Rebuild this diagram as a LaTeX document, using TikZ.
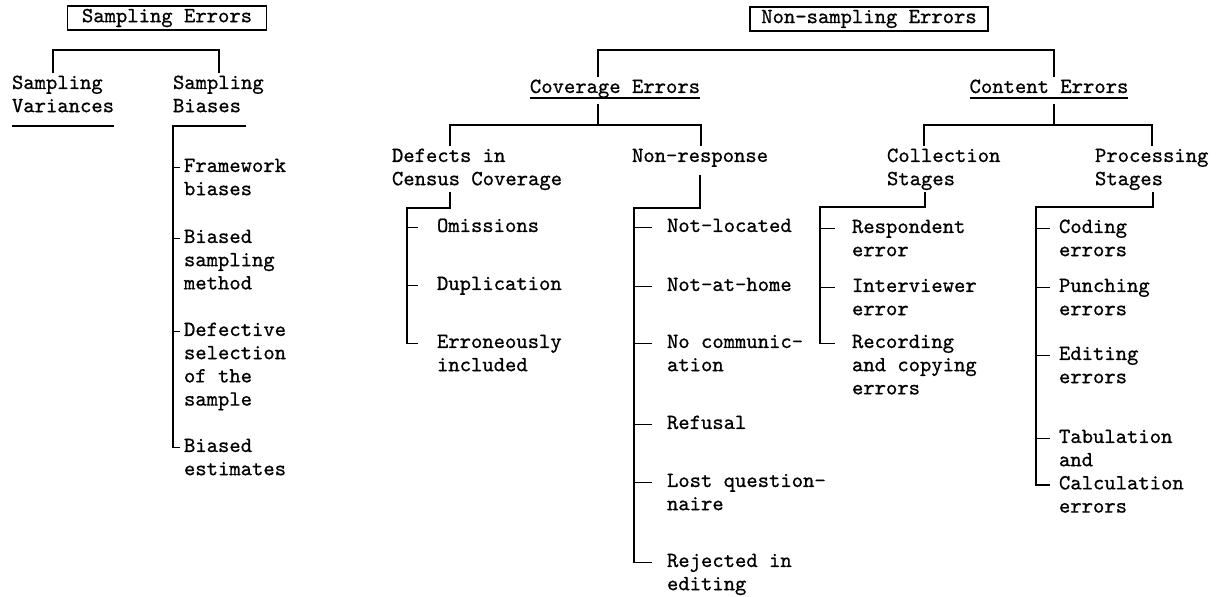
\documentclass[tikz,border=0pt]{standalone}
\usepackage{fontspec}
\setmonofont{Latin Modern Mono}[FakeBold=0.8]
\newcommand{\lns}[1]{\begin{tabular}[t]{@{}l@{}}#1\end{tabular}}
\tikzset{
  txt/.style={inner sep=0pt, outer sep=0pt, anchor=base west, font=\ttfamily\fontsize{10.8}{11.6}\selectfont},
  head/.style={txt, anchor=base},
  errbox/.style={draw, line width=0.8pt, inner sep=0pt, minimum height=12pt, font=\ttfamily\fontsize{10.8}{11.6}\selectfont}
}
\begin{document}
\begin{tikzpicture}[x=0.5pt, y=-0.5pt, line width=0.8pt]
\useasboundingbox (0,0) rectangle (1216,597);

% sampling errors
\node[errbox, minimum width=99.5pt] (se) at (167,18) {Sampling Errors};
\node[txt] (sv) at (12,89) {\lns{Sampling\\Variances}};
\node[txt] (sb) at (173,89) {\lns{Sampling\\Biases}};
\node[txt] (fw) at (184,172) {\lns{Framework\\biases}};
\node[txt] (bsm) at (184,243) {\lns{Biased\\sampling\\method}};
\node[txt] (dsel) at (184,336) {\lns{Defective\\selection\\of the\\sample}};
\node[txt] (best) at (184,452) {\lns{Biased\\estimates}};

\coordinate (seL) at (53,50);
\coordinate (seR) at (219,50);
\draw (sv.north -| seL) -- (seL) -- (seR) -- (sb.north -| seR);
\draw ([yshift=-3.5pt]sv.south west) -- ([yshift=-3.5pt]sv.south east);
\coordinate (sbE) at (246,126);
\coordinate (sbS) at (173,126);
\draw (sbE) -- (sbS) -- (sbS |- best.mid west) -- ++(7,0);
\draw (sbS |- fw.mid west) -- ++(7,0);
\draw (sbS |- bsm.mid west) -- ++(7,0);
\draw (sbS |- dsel.mid west) -- ++(7,0);

% non-sampling errors
\node[errbox, minimum width=119pt] (ns) at (869,19) {Non-sampling Errors};
\node[head] (cov) at (615,93) {\lns{Coverage Errors}};
\node[head] (con) at (1049,93) {\lns{Content Errors}};

\coordinate (nsL) at (598,50);
\coordinate (nsR) at (1054,50);
\draw (cov.north -| nsL) -- (nsL) -- (nsR) -- (con.north -| nsR);
\draw ([yshift=1pt]cov.south west) -- ([yshift=1pt]cov.south east);
\draw ([yshift=1pt]con.south west) -- ([yshift=1pt]con.south east);

% coverage errors
\node[txt] (defc) at (392,162) {\lns{Defects in\\Census Coverage}};
\node[txt] (nonr) at (632,162) {\lns{Non-response}};
\coordinate (covL) at (450,125);
\coordinate (covR) at (701,125);
\draw[shorten <=2pt] (cov.south -| nsL) -- (nsL |- covL);
\draw (defc.north -| covL) -- (covL) -- (covR) -- (nonr.north -| covR);

\node[txt] (om) at (437,232) {\lns{Omissions}};
\node[txt] (dup) at (437,290) {\lns{Duplication}};
\node[txt] (erron) at (437,348) {\lns{Erroneously\\included}};
\coordinate (dfT) at (450,208);
\coordinate (dfS) at (407,208);
\draw (defc.south -| dfT) -- (dfT) -- (dfS) -- (dfS |- erron.mid west) -- ++(11,0);
\draw (dfS |- om.mid west) -- ++(11,0);
\draw (dfS |- dup.mid west) -- ++(11,0);

\node[txt] (nl) at (667,232) {\lns{Not-located}};
\node[txt] (nah) at (667,291) {\lns{Not-at-home}};
\node[txt] (nocom) at (667,348) {\lns{No communic-\\ation}};
\node[txt] (refu) at (667,429) {\lns{Refusal}};
\node[txt] (lostq) at (667,487) {\lns{Lost question-\\naire}};
\node[txt] (rej) at (667,567) {\lns{Rejected in\\editing}};
\coordinate (nrT) at (700,208);
\coordinate (nrS) at (634,208);
\draw[shorten <=3pt] (nonr.south -| nrT) -- (nrT) -- (nrS) -- (nrS |- rej.mid west) -- ++(18,0);
\draw (nrS |- nl.mid west) -- ++(18,0);
\draw (nrS |- nah.mid west) -- ++(18,0);
\draw (nrS |- nocom.mid west) -- ++(18,0);
\draw (nrS |- refu.mid west) -- ++(18,0);
\draw (nrS |- lostq.mid west) -- ++(18,0);

% content errors
\node[txt] (coll) at (887,162) {\lns{Collection\\Stages}};
\node[txt] (proc) at (1095,162) {\lns{Processing\\Stages}};
\coordinate (conL) at (924,125);
\coordinate (conR) at (1152,125);
\draw[shorten <=2pt] (con.south -| nsR) -- (nsR |- conL);
\draw (coll.north -| conL) -- (conL) -- (conR) -- (proc.north -| conR);

\node[txt] (resp) at (852,233) {\lns{Respondent\\error}};
\node[txt] (intv) at (852,292) {\lns{Interviewer\\error}};
\node[txt] (rec) at (852,348) {\lns{Recording\\and copying\\errors}};
\coordinate (clT) at (925,207);
\coordinate (clS) at (820,207);
\draw (coll.south -| clT) -- (clT) -- (clS) -- (clS |- rec.mid west) -- ++(15,0);
\draw (clS |- resp.mid west) -- ++(15,0);
\draw (clS |- intv.mid west) -- ++(15,0);

\node[txt] (cod) at (1059,233) {\lns{Coding\\errors}};
\node[txt] (pun) at (1059,292) {\lns{Punching\\errors}};
\node[txt] (edi) at (1059,360) {\lns{Editing\\errors}};
\node[txt] (tab) at (1059,443) {\lns{Tabulation\\and\\Calculation\\errors}};
\coordinate (tabC) at ([yshift=-23.2pt]tab.mid west);
\coordinate (prT) at (1153,207);
\coordinate (prS) at (1036,207);
\draw (proc.south -| prT) -- (prT) -- (prS) -- (prS |- tabC) -- ++(14,0);
\draw (prS |- cod.mid west) -- ++(14,0);
\draw (prS |- pun.mid west) -- ++(14,0);
\draw (prS |- edi.mid west) -- ++(14,0);
\draw (prS |- tab.mid west) -- ++(14,0);
\end{tikzpicture}
\end{document}
